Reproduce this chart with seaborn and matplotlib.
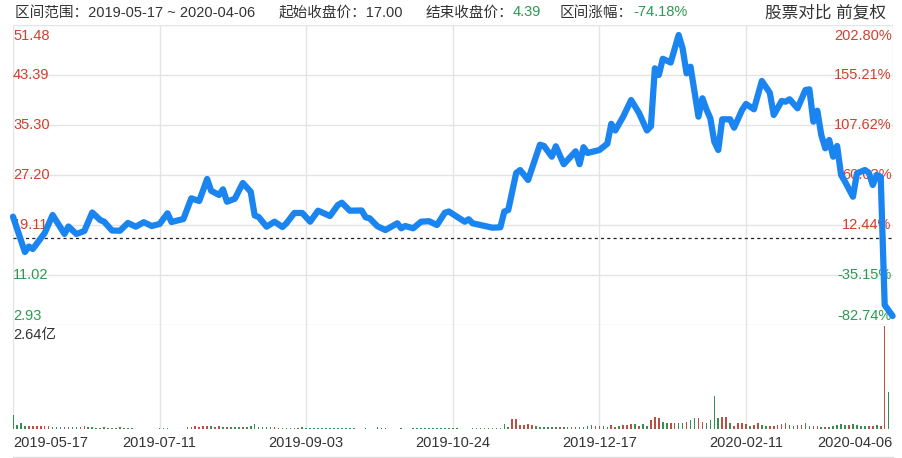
import matplotlib
matplotlib.use("Agg")
import matplotlib.pyplot as plt
from matplotlib.lines import Line2D
import seaborn as sns
import pandas as pd

# ---------------- data ----------------
days = [0, 3, 4, 5, 8, 10, 13, 14, 16, 18,
        20, 22, 23, 25, 27, 29, 31, 33, 35, 37,
        39, 40, 43, 45, 47, 49, 50, 52, 53, 54,
        56, 58, 60, 61, 62, 64, 66, 68, 69, 71,
        73, 75, 77, 80, 82, 83, 85, 88, 89, 90,
        92, 94, 97, 98, 99, 101, 103, 105, 107, 109,
        110, 114, 115, 116, 118, 121, 123, 124, 125, 127,
        128, 130, 133, 134, 136, 137, 139, 142, 143, 144,
        145, 147, 148, 150, 151, 152, 154, 156, 158, 160,
        161, 162, 163, 164, 166, 168, 169, 170, 171, 173,
        174, 175, 176, 177, 178, 179, 181, 182, 184, 185,
        187, 189, 191, 192, 194, 195, 196, 198, 200, 201,
        202, 203, 204, 205, 206, 207, 208, 209, 210, 212,
        213, 215, 216, 217, 218, 219, 220, 222]
close = [20.46, 14.74, 15.63, 15.23, 17.82, 20.73, 17.66, 18.87, 17.66, 18.14,
         21.14, 19.92, 19.65, 18.22, 18.19, 19.44, 18.84, 19.57, 18.95, 19.28,
         21.01, 19.60, 20.08, 23.43, 23.00, 26.56, 24.66, 23.97, 24.89, 22.88,
         23.37, 25.91, 24.50, 20.65, 20.41, 18.84, 19.65, 18.79, 19.39, 21.06,
         21.06, 19.65, 21.43, 20.57, 22.35, 22.72, 21.43, 21.46, 20.36, 20.20,
         18.90, 18.30, 19.39, 18.58, 18.95, 18.58, 19.65, 19.73, 19.11, 21.10,
         21.30, 19.65, 20.04, 19.39, 19.11, 18.68, 18.74, 21.30, 21.54, 27.53,
         28.01, 26.40, 32.11, 31.90, 30.17, 31.85, 28.95, 31.04, 28.95, 31.70,
         30.77, 31.09, 31.25, 32.27, 35.49, 34.41, 36.64, 39.34, 37.24, 34.41,
         35.09, 44.47, 43.39, 46.01, 45.41, 49.86, 47.71, 43.66, 44.73, 36.64,
         39.62, 37.84, 36.38, 32.59, 31.25, 36.22, 36.22, 34.86, 37.72, 38.70,
         37.84, 42.42, 40.52, 36.92, 39.18, 39.07, 39.46, 38.00, 40.96, 41.07,
         35.83, 37.61, 33.68, 31.53, 32.87, 30.17, 31.90, 27.21, 26.12, 23.69,
         27.48, 28.01, 27.58, 25.59, 27.21, 26.88, 6.17, 4.39]

# volume in 亿 (1e8), one per trading day 0..222
volume = [0.36, 0.10, 0.15, 0.08, 0.07, 0.07, 0.07, 0.08, 0.08, 0.08,
          0.06, 0.05, 0.04, 0.05, 0.04, 0.04, 0.04, 0.05, 0.07, 0.05,
          0.04, 0.03, 0.03, 0.04, 0.03, 0.03, 0.03, 0.04, 0.03, 0.03,
          0.03, 0, 0, 0, 0, 0, 0, 0.02, 0.02, 0.02,
          0, 0, 0, 0, 0.06, 0.04, 0.07, 0.06, 0.08, 0.07,
          0.08, 0.06, 0.07, 0.05, 0.06, 0.05, 0.06, 0.05, 0.05, 0.06,
          0.07, 0.13, 0.06, 0.05, 0.04, 0.04, 0.04, 0.03, 0.03, 0.03,
          0.03, 0.03, 0.03, 0.04, 0.03, 0.03, 0.03, 0.03, 0.03, 0.03,
          0.03, 0.03, 0.03, 0.03, 0.03, 0.03, 0.03, 0, 0, 0.02,
          0, 0, 0.04, 0.03, 0.03, 0, 0, 0, 0.02, 0,
          0, 0.02, 0.02, 0.02, 0.02, 0.02, 0.02, 0.02, 0.02, 0.02,
          0.02, 0.02, 0.02, 0, 0, 0, 0.02, 0.02, 0.02, 0.02,
          0.02, 0.02, 0.02, 0.02, 0.13, 0.06, 0.25, 0.25, 0.10, 0.11,
          0.13, 0.11, 0.08, 0.06, 0.04, 0.05, 0.05, 0.05, 0.05, 0.05,
          0.04, 0.05, 0.05, 0.06, 0.06, 0.07, 0.10, 0.08, 0.08, 0.08,
          0.06, 0.10, 0.06, 0.08, 0.10, 0.10, 0.13, 0.13, 0.08, 0.13,
          0.08, 0.23, 0.30, 0.27, 0.19, 0.16, 0.15, 0.16, 0.16, 0.16,
          0.19, 0.23, 0.27, 0.27, 0.19, 0.15, 0.23, 0.85, 0.27, 0.30,
          0.30, 0.16, 0.08, 0.15, 0.16, 0.13, 0.08, 0.10, 0.16, 0.10,
          0.08, 0.08, 0.08, 0.10, 0.13, 0.16, 0.10, 0.08, 0.10, 0.10,
          0.15, 0.08, 0.08, 0.08, 0.06, 0.04, 0.04, 0.08, 0.10, 0.13,
          0.10, 0.10, 0.13, 0.10, 0.08, 0.08, 0.08, 0.08, 0.10, 0.08,
          2.64, 0.95, 0]
# u = up day (red bar), d = down day (green bar)
vol_dir = list(
    "ddddu" "uuuuu"  # 0-9
    "dddud" "dduud"  # 10-19
    "ddudd" "duddd"  # 20-29
    "ddddd" "ddddd"  # 30-39
    "ddddu" "duuuu"  # 40-49
    "duudu" "dddud"  # 50-59
    "ddddd" "duddd"  # 60-69
    "ddudd" "ddddd"  # 70-79
    "ddddd" "ddddd"  # 80-89
    "ddddd" "ddddd"  # 90-99
    "ddddd" "ddddd"  # 100-109
    "ddddd" "ddddd"  # 110-119
    "ddddd" "duuuu"  # 120-129
    "uuddd" "dddud"  # 130-139
    "ududd" "dduud"  # 140-149
    "duudu" "uudud"  # 150-159
    "duuud" "duudd"  # 160-169
    "uddua" "ddddu"  # 170-179
    "uduuu" "uduud"  # 180-189
    "duuuu" "udduu"  # 190-199
    "dduud" "udddd"  # 200-209
    "duddd" "duudu"  # 210-219
    "udd"            # 220-222
)
vol_dir = ["u" if c in "ua" else "d" for c in vol_dir]

price_ticks = [51.48, 43.39, 35.30, 27.20, 19.11, 11.02, 2.93]
price_labels = ["51.48", "43.39", "35.30", "27.20", "19.11", "11.02", "2.93"]
pct_labels = ["202.80%", "155.21%", "107.62%", "60.03%", "12.44%", "-35.15%", "-82.74%"]
date_ticks = [0, 37, 74, 111, 148, 185, 222]
date_labels = ["2019-05-17", "2019-07-11", "2019-09-03", "2019-10-24",
               "2019-12-17", "2020-02-11", "2020-04-06"]
start_close = 17.00
end_close = 4.39
change_pct = "-74.18%"
vol_max = 2.64
vol_label = "2.64亿"

price_df = pd.DataFrame({"day": days, "close": close})
vol_df = pd.DataFrame({"day": list(range(len(volume))), "vol": volume,
                       "dir": ["up" if d == "u" else "down" for d in vol_dir]})

# ---------------- style ----------------
sns.set_style("white")
plt.rcParams["font.family"] = ["Liberation Sans", "Noto Sans CJK SC", "DejaVu Sans"]

RED = "#d0402c"
GREEN = "#2a9a50"
BLUE = "#1a84f0"
GRID = "#e4e4e4"
TXT = "#333333"

W, H = 903, 458
fig = plt.figure(figsize=(W / 100, H / 100), dpi=100)


def rect(x0, y0, x1, y1):
    return [x0 / W, 1 - y1 / H, (x1 - x0) / W, (y1 - y0) / H]


ax = fig.add_axes(rect(13, 25, 892.6, 325))
axv = fig.add_axes(rect(13, 325, 892.6, 429))

xmax = len(volume) - 1
for a in (ax, axv):
    for s in a.spines.values():
        s.set_visible(False)
    for d in date_ticks:
        a.axvline(d, color=GRID, lw=1, zorder=0)

for t in price_ticks:
    ax.axhline(t, color=GRID, lw=1, zorder=0)

ax.axhline(start_close, color="#222222", lw=0.9, ls=(0, (2.5, 2.5)), zorder=1)

sns.lineplot(data=price_df, x="day", y="close", ax=ax, color=BLUE, lw=4.5,
             zorder=5, clip_on=False, solid_joinstyle="round",
             solid_capstyle="round")
ax.set_xlim(0, xmax)
ax.set_ylim(price_ticks[-1], price_ticks[0])
ax.set_xlabel("")
ax.set_ylabel("")
ax.set_xticks([])
ax.set_yticks([])

# price / percentage labels
n = len(price_ticks)
for k, (t, lab, plab) in enumerate(zip(price_ticks, price_labels, pct_labels)):
    col = RED if t > start_close else GREEN
    if k == 0:
        va, off = "top", -4
    elif k == n - 1:
        va, off = "bottom", 2
    else:
        va, off = "center", 0
    ax.annotate(lab, xy=(0, t), xycoords=("axes fraction", "data"),
                xytext=(0, off), textcoords="offset pixels",
                ha="left", va=va, color=col, fontsize=10.5, zorder=3)
    ax.annotate(plab, xy=(1, t), xycoords=("axes fraction", "data"),
                xytext=(-1, off), textcoords="offset pixels",
                ha="right", va=va, color=col, fontsize=10.5, zorder=3)

# volume bars
sns.barplot(data=vol_df, x="day", y="vol", hue="dir", ax=axv,
            palette={"up": RED, "down": GREEN}, native_scale=True,
            dodge=False, width=0.4, errorbar=None, legend=False,
            linewidth=0)
axv.set_xlim(0, xmax)
axv.set_ylim(0, vol_max * 104 / 103)
axv.set_xlabel("")
axv.set_ylabel("")
axv.set_xticks([])
axv.set_yticks([])
axv.annotate(vol_label, xy=(0, 1), xycoords="axes fraction",
             xytext=(0, -3), textcoords="offset pixels",
             ha="left", va="top", color=TXT, fontsize=10.5)

# date labels
for k, (d, lab) in enumerate(zip(date_ticks, date_labels)):
    ha = "left" if k == 0 else ("right" if k == len(date_ticks) - 1 else "center")
    axv.annotate(lab, xy=(d, 0), xycoords=("data", "axes fraction"),
                 xytext=(0, -14), textcoords="offset pixels",
                 ha=ha, va="center", color=TXT, fontsize=10.5)

# bottom rule
fig.add_artist(Line2D([13 / W, 893 / W], [1 - 457 / H, 1 - 457 / H],
                      color="#dddddd", lw=1))

# header
hy = 1 - 12.5 / H
fig.text(15 / W, hy, "区间范围：2019-05-17 ~ 2020-04-06", color=TXT,
         fontsize=10.5, va="center", ha="left")
fig.text(279 / W, hy, f"起始收盘价：{start_close:.2f}", color=TXT,
         fontsize=10.5, va="center", ha="left")
fig.text(513 / W, hy, "结束收盘价：", color=TXT, fontsize=10.5,
         va="center", ha="right")
fig.text(513 / W, hy, f"{end_close:.2f}", color=GREEN, fontsize=10.5,
         va="center", ha="left")
fig.text(633 / W, hy, "区间涨幅：", color=TXT, fontsize=10.5,
         va="center", ha="right")
fig.text(633 / W, hy, change_pct, color=GREEN, fontsize=10.5,
         va="center", ha="left")
fig.text(886 / W, 1 - 13 / H, "股票对比 前复权", color=TXT, fontsize=12,
         va="center", ha="right")

fig.savefig("out.png", dpi=100)
